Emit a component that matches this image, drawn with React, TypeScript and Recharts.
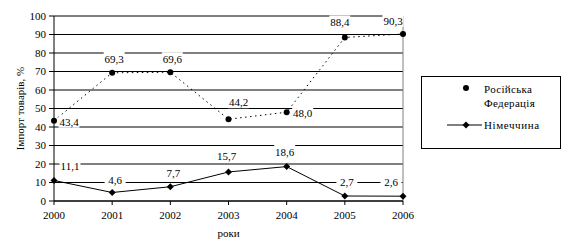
import React from 'react';
import { LineChart, Line, XAxis, YAxis, CartesianGrid, ReferenceLine, LabelList, Label } from 'recharts';

const years = [2000, 2001, 2002, 2003, 2004, 2005, 2006];
const russia = [43.4, 69.3, 69.6, 44.2, 48.0, 88.4, 90.3];
const germany = [11.1, 4.6, 7.7, 15.7, 18.6, 2.7, 2.6];
const yTicks = [0, 10, 20, 30, 40, 50, 60, 70, 80, 90, 100];

const russiaName = 'Російська Федерація';
const germanyName = 'Німеччина';

// label centre offsets from each point (placement only)
const russiaLabelShift = [[15, 1], [2, -14], [2, -13], [10, -17], [16, 1], [-5, -15], [-10, -13]];
const germanyLabelShift = [[16, -14], [3, -12], [3, -14], [-2, -16], [-2, -15], [2, -14], [-12, -14]];

const data = years.map((year, i) => ({ year, russia: russia[i], germany: germany[i] }));

const FONT = 'Liberation Serif, Tinos, Times New Roman, DejaVu Serif, serif';
const fmt = (v: number) => v.toFixed(1).replace('.', ',');

const makeLabel = (shift: number[][]) => (props: any) => {
    const { x, y, value, index } = props;
    const [dx, dy] = shift[index] || [0, -12];
    const cx = x + dx;
    const cy = y + dy;
    const w = 21;
    return (
        <g>
            <rect x={cx - w / 2} y={cy - 7} width={w} height={13} fill="#fff" />
            <text x={cx} y={cy} textAnchor="middle" dominantBaseline="central" fontSize={11} fontFamily={FONT} fill="#000">
                {fmt(value)}
            </text>
        </g>
    );
};

const Diamond = (props: any) => {
    const { cx, cy } = props;
    if (cx == null || cy == null) return <g />;
    const r = 3.5;
    return <path d={`M${cx},${cy - r}L${cx + r},${cy}L${cx},${cy + r}L${cx - r},${cy}Z`} fill="#000" />;
};

const RoundDot = (props: any) => {
    const { cx, cy } = props;
    if (cx == null || cy == null) return <g />;
    return <circle cx={cx} cy={cy} r={3} fill="#000" />;
};

const LegendBox = () => (
    <div style={{ position: 'absolute', left: 421, top: 76, width: 138, height: 71, border: '1px solid #000', background: '#fff', fontFamily: FONT, fontSize: 11 }}>
        <svg width={40} height={70} style={{ position: 'absolute', left: 24, top: 0 }}>
            <circle cx={20} cy={11} r={3} fill="#000" />
            <line x1={1} y1={48} x2={36} y2={48} stroke="#000" />
            <path d="M20,44.5L23.5,48L20,51.5L16.5,48Z" fill="#000" />
        </svg>
        <div style={{ position: 'absolute', left: 62, top: 5, lineHeight: '14px', letterSpacing: 0.3 }}>
            Російська<br />Федерація
        </div>
        <div style={{ position: 'absolute', left: 62, top: 41, lineHeight: '14px', letterSpacing: 0.6 }}>
            {germanyName}
        </div>
    </div>
);

export default function App() {
    return (
        <div style={{ position: 'absolute', left: 0, top: 0, width: 566, height: 251, background: '#fff' }}>
            <LineChart width={566} height={251} data={data} margin={{ top: 16, right: 163, bottom: 14, left: 8 }}>
                <CartesianGrid vertical={false} stroke="#000" />
                <ReferenceLine x={2006} stroke="#808080" />
                <XAxis
                    dataKey="year"
                    height={36}
                    stroke="#000"
                    tickSize={4}
                    tickMargin={6}
                    tick={{ fill: '#000', fontSize: 11, fontFamily: FONT }}
                    interval={0}
                >
                    <Label value="роки" position="insideBottom" offset={0} style={{ fill: '#000', fontSize: 11, fontFamily: FONT }} />
                </XAxis>
                <YAxis
                    width={46}
                    domain={[0, 100]}
                    ticks={yTicks}
                    stroke="#000"
                    tickSize={5}
                    tickMargin={3}
                    tick={{ fill: '#000', fontSize: 11, fontFamily: FONT }}
                    interval={0}
                >
                    <Label value="Імпорт товарів, %" angle={-90} position="center" dx={-11} style={{ fill: '#000', fontSize: 11, fontFamily: FONT, textAnchor: 'middle' }} />
                </YAxis>
                <Line
                    name={russiaName}
                    dataKey="russia"
                    stroke="#000"
                    strokeWidth={1}
                    strokeDasharray="1.5 3.5"
                    dot={<RoundDot />}
                    activeDot={false}
                    isAnimationActive={false}
                >
                    <LabelList dataKey="russia" content={makeLabel(russiaLabelShift)} />
                </Line>
                <Line
                    name={germanyName}
                    dataKey="germany"
                    stroke="#000"
                    strokeWidth={1}
                    dot={<Diamond />}
                    activeDot={false}
                    isAnimationActive={false}
                >
                    <LabelList dataKey="germany" content={makeLabel(germanyLabelShift)} />
                </Line>
            </LineChart>
            <LegendBox />
        </div>
    );
}
